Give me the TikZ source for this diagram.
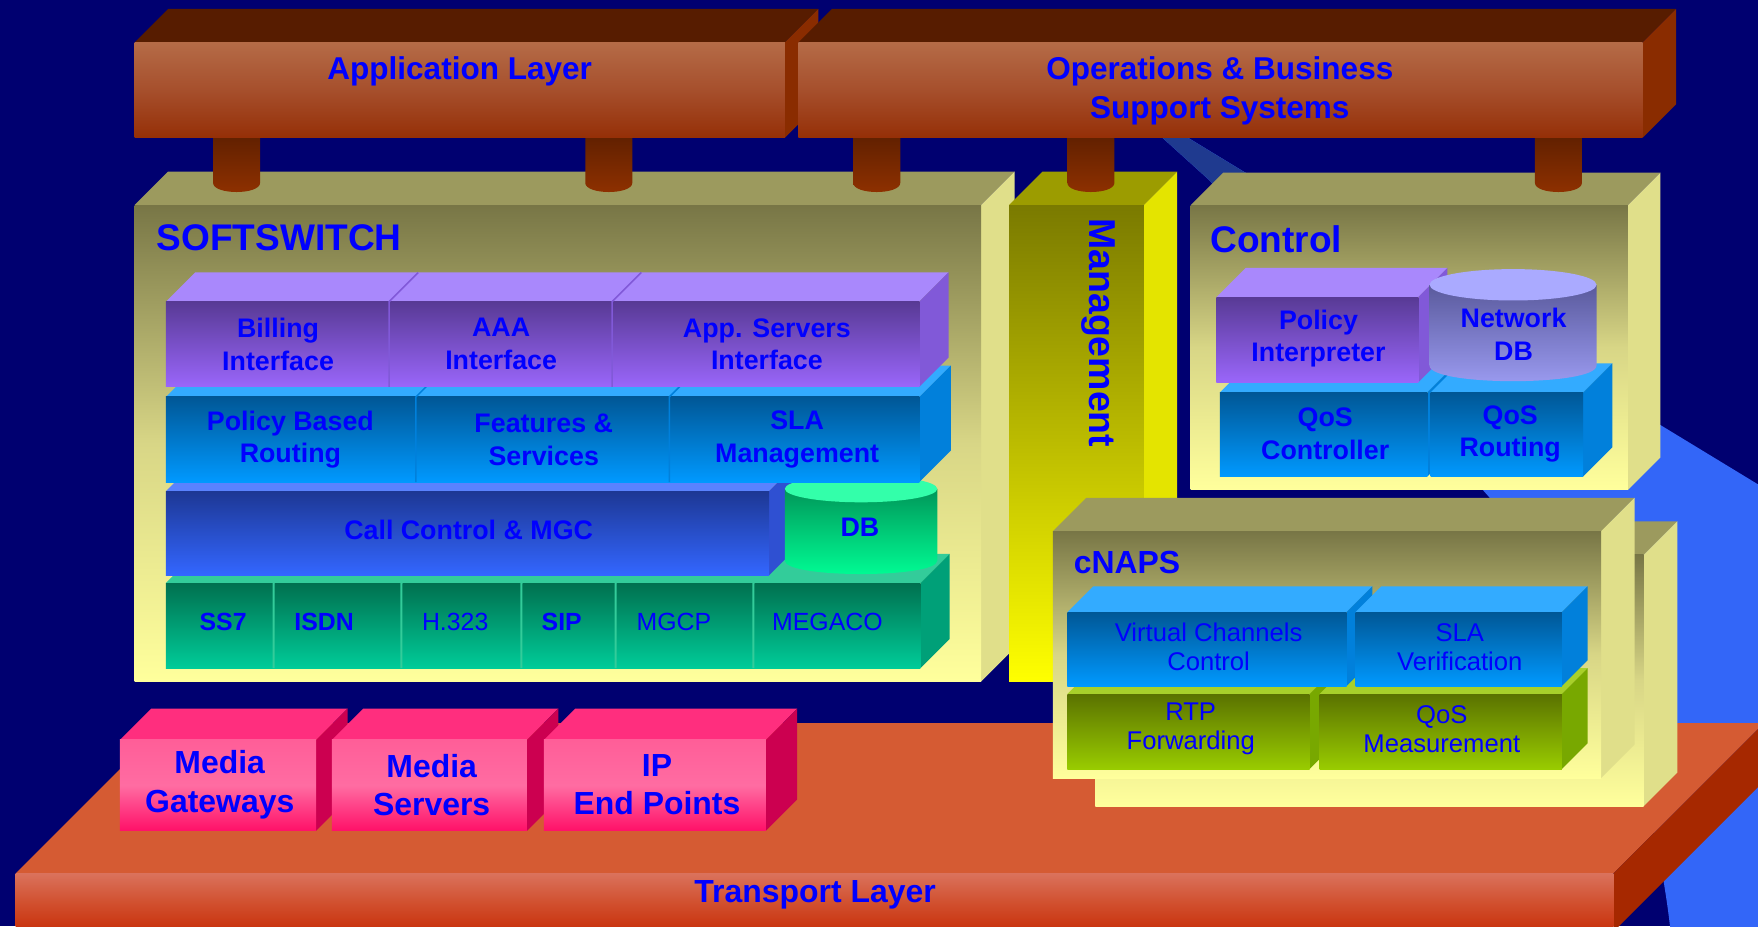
\documentclass[tikz,border=0pt]{standalone}
\usepackage{fontspec}
\setmainfont{Liberation Sans}

\definecolor{night}{HTML}{000070}
\definecolor{txt}{HTML}{0000FF}
\definecolor{ribbon}{HTML}{3366F8}
\definecolor{ribbondark}{HTML}{1F3A8F}
\definecolor{pillarA}{HTML}{5E1F00}
\definecolor{pillarB}{HTML}{903100}

\newcommand\palette[6]{%
  \definecolor{#1T}{HTML}{#2}\definecolor{#1S}{HTML}{#3}%
  \definecolor{#1A}{HTML}{#4}\definecolor{#1B}{HTML}{#5}\definecolor{#1M}{HTML}{#6}%
  \tikzset{#1 top/.style={fill=#1T}, #1 side/.style={fill=#1S},
    #1 front/.style={top color=#1A, bottom color=#1B, middle color=#1M}}}

\palette{brick}{571C00}{8A2C00}{B56B47}{952F07}{A64F2C}
\palette{frame}{9C9A5E}{E0DF8A}{787646}{FFFF9C}{D8D686}
\palette{mgmt}{9C9C00}{E4E400}{7A7A00}{FFFF00}{BCBC00}
\palette{pu}{A988FC}{8159D8}{583A95}{9A66FA}{7950C8}
\palette{bl}{33ABFF}{0180DB}{005796}{0099FF}{0078CA}
\palette{cc}{5A82FF}{2F50D2}{1D3794}{3366FF}{284FCA}
\palette{gr}{33CC9A}{00A078}{00704F}{00CC99}{009E74}
\palette{lm}{A8D02A}{78A800}{5A7200}{99CC00}{7A9F00}
\palette{pk}{FF2E7E}{CC0050}{FF5E98}{FF1068}{FF6CA2}
\palette{soil}{D55B33}{A62800}{DA725C}{C82F0A}{D1502F}
\palette{db}{33FFAA}{00A078}{009659}{00FF96}{00CC78}
\palette{netdb}{AAAAFF}{7B7BC8}{5A5A9C}{9C9CF2}{7B7BC8}

\newcommand\cube[6]{%
  \path[#6 top] (#1,#2) -- ++(#5,-#5) -- ++(#3,0) -- ++(-#5,#5) -- cycle;
  \path[#6 side] (#1+#3,#2) -- ++(#5,-#5) -- ++(0,#4) -- ++(-#5,#5) -- cycle;
  \path[#6 front] (#1,#2) rectangle ++(#3,#4);}

\newcommand\drum[6]{%
  \path[#6 front] (#1,#3) -- (#1,#4) .. controls (#1,#4+1.33*#5) and (#1+#2,#4+1.33*#5) .. (#1+#2,#4) -- (#1+#2,#3) -- cycle;
  \path[#6 top] (#1+#2/2,#3) ellipse[x radius=#2/2, y radius=#5];}

\begin{document}
\begin{tikzpicture}[x=0.01cm, y=-0.01cm,
    lbl/.style={text=txt, align=center, inner sep=0pt, font={\fontsize{6.8}{8.3}\selectfont\bfseries}},
    plain lbl/.style={lbl, font={\fontsize{6.5}{7.4}\selectfont}},
    proto lbl/.style={lbl, font={\fontsize{6.3}{7.5}\selectfont}},
    proto bold/.style={lbl, font={\fontsize{6.3}{7.5}\selectfont\bfseries}},
    box lbl/.style={lbl, font={\fontsize{8.1}{9.7}\selectfont\bfseries}},
    title lbl/.style={lbl, anchor=west, font={\fontsize{9.4}{11}\selectfont\bfseries}},
    pillar/.style={top color=pillarA, bottom color=pillarB},
    pu div/.style={draw=puS, line width=0.4pt},
    bl div/.style={draw=blS, line width=0.4pt},
    gr div/.style={draw=grT, line width=0.5pt}
]
\useasboundingbox (0,0) rectangle (1568,826);
\clip (0,0) rectangle (1568,826);
\fill[night] (0,0) rectangle (1568,826);

\fill[ribbon] (1012,100) -- (1022,100) -- (1568,432) -- (1568,830) -- (1490,830)
  .. controls (1475,700) and (1430,560) .. (1327,442) -- (1079,161) -- (1037,123) -- cycle;
\fill[ribbondark] (1012,100) -- (1022,100) -- (1137,170) -- (1088,170) -- (1079,161) -- (1037,123) -- cycle;

\cube{14}{779}{1425}{52}{134}{soil}
\node[box lbl] (transport) at (727,798) {Transport Layer};

\cube{107}{660}{175}{81}{28}{pk}
\cube{296}{660}{174}{81}{28}{pk}
\cube{485}{660}{198}{81}{28}{pk}
\node[box lbl] (mgw) at (196,700) {Media\\Gateways};
\node[box lbl] (msrv) at (385,700) {Media\\Servers};
\node[box lbl] (ipep) at (586,700) {IP\\End Points};

\cube{120}{183}{755}{425}{30}{frame}
\node[title lbl] (softswitch) at (139,212) {SOFTSWITCH};

\cube{148}{520}{673}{76}{26}{gr}
\foreach \x in {244,358,465,549,672}
  \draw[gr div] (\x,596) -- (\x,520) -- ++(26,-26);
\node[proto bold] (ss7) at (199,555) {SS7};
\node[proto bold] (isdn) at (289,555) {ISDN};
\node[proto lbl] (h323) at (406,555) {H.323};
\node[proto bold] (sip) at (501,555) {SIP};
\node[proto lbl] (mgcp) at (601,555) {MGCP};
\node[proto lbl] (megaco) at (738,555) {MEGACO};

\cube{148}{438}{538}{75}{26}{cc}
\node[lbl] (callctl) at (418,473) {Call Control \& MGC};
\drum{700}{136}{436}{500}{12}{db}
\node[lbl] (db) at (767,470) {DB};

\cube{148}{354}{672}{76}{28}{bl}
\foreach \x in {371,597}
  \draw[bl div] (\x,430) -- (\x,354) -- ++(28,-28);
\node[lbl] (pbr) at (259,392) {Policy Based\\Routing};
\node[lbl] (features) at (485,392) {Features \&\\Services};
\node[lbl] (slamgmt) at (711,392) {SLA\\Management};

\cube{148}{269}{672}{76}{26}{pu}
\foreach \x in {347,546}
  \draw[pu div] (\x,345) -- (\x,269) -- ++(26,-26);
\node[lbl] (billing) at (248,307) {Billing\\Interface};
\node[lbl] (aaa) at (447,307) {AAA\\Interface};
\node[lbl] (appsrv) at (684,307) {App. Servers\\Interface};

\cube{900}{183}{120}{425}{30}{mgmt}
\node[lbl, rotate=-90, anchor=west, font={\fontsize{9.5}{11}\selectfont\bfseries}] (management) at (980,194) {Management};

\cube{1062}{183}{390}{254}{29}{frame}
\node[title lbl] (control) at (1079,213) {Control};
\cube{1088}{350}{185}{75}{26}{bl}
\cube{1276}{350}{136}{75}{26}{bl}
\cube{1085}{265}{180}{76}{26}{pu}
\drum{1275}{149}{254}{326}{14}{netdb}
\node[lbl] (qosctl) at (1182,387) {QoS\\Controller};
\node[lbl] (qosrt) at (1347,387) {QoS\\Routing};
\node[lbl] (policy) at (1176,302) {Policy\\Interpreter};
\node[lbl] (netdb) at (1350,298) {Network\\DB};

\cube{977}{495}{489}{224}{30}{frame}
\cube{939}{474}{489}{220}{30}{frame}
\node[title lbl, font={\fontsize{8.1}{9.7}\selectfont\bfseries}] (cnaps) at (957,502) {cNAPS};
\cube{952}{619}{216}{67}{23}{lm}
\cube{1177}{619}{216}{67}{23}{lm}
\cube{952}{546}{249}{66}{23}{bl}
\cube{1209}{546}{184}{66}{23}{bl}
\node[plain lbl] (vcc) at (1078,577) {Virtual Channels\\Control};
\node[plain lbl] (slaver) at (1302,577) {SLA\\Verification};
\node[plain lbl] (rtp) at (1062,650) {RTP\\Forwarding};
\node[plain lbl] (qosmeas) at (1286,650) {QoS\\Measurement};

\foreach \x in {211,543,782,973,1390}
  \path[pillar] (\x-21,118) -- (\x-21,163) .. controls (\x-21,174) and (\x+21,174) .. (\x+21,163) -- (\x+21,118) -- cycle;

\cube{120}{38}{580}{85}{30}{brick}
\cube{712}{38}{753}{85}{30}{brick}
\node[lbl, font={\fontsize{8}{10}\selectfont\bfseries}] (app) at (410,64) {Application Layer};
\node[lbl, font={\fontsize{8}{10}\selectfont\bfseries}] (oss) at (1088,81) {Operations \& Business\\Support Systems};
\end{tikzpicture}
\end{document}
